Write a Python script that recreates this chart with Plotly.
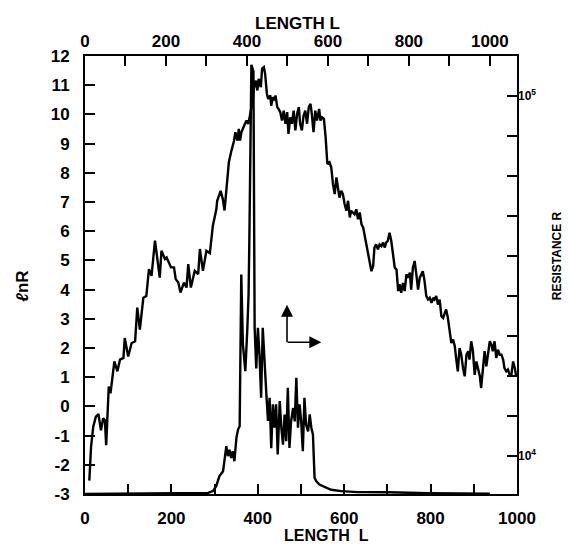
import plotly.graph_objects as go

# ---- ln R versus length L (bottom axis / left axis) ----
L_ln = [10, 14, 19, 25, 31, 37, 42, 46, 49, 55, 59, 68, 75, 81, 89, 92, 100, 108, 116, 121,
        127, 135, 142, 148, 154, 162, 173, 177, 185, 189, 199, 206, 210, 216, 221, 229, 235, 239, 245, 254,
        262, 266, 273, 281, 289, 296, 304, 306, 314, 319, 323, 328, 333, 339, 345, 348, 353, 356, 359, 362,
        366, 370, 374, 378, 381, 385, 388, 391, 395, 399, 402, 407, 410, 414, 417, 421, 424, 429, 431, 435,
        439, 441, 445, 448, 452, 456, 460, 464, 468, 471, 475, 479, 483, 487, 491, 495, 498, 502, 506, 510,
        514, 518, 522, 525, 529, 533, 537, 542, 545, 549, 553, 557, 561, 566, 570, 574, 578, 582, 586, 589,
        593, 597, 601, 605, 609, 613, 616, 624, 628, 632, 636, 640, 644, 647, 653, 659, 663, 667, 670, 674,
        678, 682, 686, 690, 694, 697, 701, 705, 709, 713, 717, 721, 725, 728, 732, 736, 740, 744, 748, 752,
        755, 759, 763, 767, 771, 775, 779, 782, 786, 790, 794, 798, 802, 806, 809, 813, 817, 821, 825, 829,
        833, 836, 840, 844, 848, 852, 856, 860, 863, 867, 871, 875, 879, 883, 887, 890, 894, 898, 902, 906,
        910, 914, 917, 921, 925, 929, 933, 937, 941, 944, 948, 952, 956, 960, 964, 968, 971, 975, 979, 983,
        987, 991, 995, 998]
lnR = [-2.54, -1.39, -0.70, -0.36, -0.26, -0.82, -0.41, -0.47, -1.33, 0.68, 0.45, 1.54, 1.20, 1.60, 1.66, 2.34, 1.71, 2.17, 2.23, 3.38,
       2.63, 3.72, 3.78, 4.70, 4.47, 5.68, 4.41, 5.33, 5.05, 5.10, 4.76, 4.76, 4.36, 4.24, 3.90, 4.24, 4.07, 4.87, 4.07, 4.64,
       4.53, 5.39, 4.64, 5.33, 5.25, 6.19, 6.75, 7.04, 7.38, 7.10, 6.71, 7.61, 8.36, 8.76, 9.10, 9.39, 9.10, 9.50, 9.10, 9.39,
       9.56, 9.67, 9.79, 9.67, 9.90, 10.20, 10.45, 10.90, 11.16, 10.82, 11.22, 10.93, 11.57, 11.62, 11.39, 10.71, 10.53, 10.65, 10.30, 10.59,
       10.48, 10.65, 10.25, 10.19, 10.08, 9.79, 10.13, 9.68, 10.08, 9.33, 9.90, 9.68, 10.13, 9.45, 10.02, 10.25, 9.68, 9.45, 9.96, 10.13,
       9.68, 10.25, 10.36, 10.02, 9.39, 10.13, 9.79, 10.19, 9.79, 9.90, 9.85, 9.22, 8.30, 8.36, 8.19, 7.61, 7.27, 7.84, 7.50, 7.15,
       7.38, 7.27, 6.93, 6.70, 7.04, 6.47, 6.70, 6.58, 6.75, 6.41, 6.64, 6.24, 6.12, 5.89, 5.44, 5.04, 4.63, 4.81, 5.44, 5.55,
       5.38, 5.55, 5.49, 5.61, 5.44, 5.61, 5.67, 5.95, 5.67, 5.21, 4.75, 4.69, 3.95, 4.18, 3.89, 4.23, 3.95, 4.52, 4.41, 4.58,
       4.00, 4.75, 4.98, 4.52, 4.00, 4.41, 4.58, 4.63, 4.29, 3.78, 3.66, 3.72, 3.55, 3.72, 3.66, 3.78, 3.49, 3.66, 3.09, 3.03,
       3.20, 3.32, 3.03, 2.57, 2.17, 2.29, 2.06, 1.54, 1.20, 2.00, 1.77, 1.31, 1.03, 1.77, 1.89, 1.60, 2.23, 1.89, 1.08, 1.54,
       1.31, 1.03, 0.63, 1.31, 1.89, 1.37, 1.77, 2.23, 2.11, 1.89, 2.23, 1.66, 1.94, 1.77, 1.77, 1.60, 1.31, 1.20, 1.26, 1.08,
       1.08, 1.54, 1.31, 1.03]

# ---- Resistance R versus length L (top axis / right log axis) ----
L_R = [0, 100, 200, 260, 290, 304, 316, 324, 332, 341, 349, 353, 357, 361, 365, 369, 374, 378, 382, 386,
       390, 396, 401, 404, 406, 411, 416, 418, 419, 423, 427, 431, 435, 439, 444, 448, 452, 456, 460, 464,
       468, 472, 476, 481, 485, 489, 493, 497, 501, 505, 509, 514, 518, 522, 526, 530, 534, 538, 542, 546,
       551, 555, 559, 563, 567, 571, 579, 588, 596, 608, 633, 674, 750, 800, 850, 1000]
R = [7840, 7850, 7860, 7880, 7900, 7890, 7980, 8240, 8790, 9060, 10640, 9980, 10400, 9860, 10300, 9660, 11220, 11830, 12080, 31900,
     20400, 17200, 22600, 28100, 40300, 122000, 117000, 40300, 22700, 17500, 22700, 19100, 14500, 22700, 17200, 14800, 12500, 14500, 10500, 13900,
     11970, 13900, 10090, 14190, 11970, 10740, 13030, 10990, 15450, 10520, 12470, 13580, 12470, 16480, 11970, 13900, 12470, 10300, 14490, 12220,
     11700, 13030, 11970, 11460, 8690, 8510, 8320, 8240, 8150, 8050, 7980, 7930, 7920, 7900, 7870, 7850]

# ---- axis ticks / labels ----
LN_TICKS = list(range(-3, 13))
LN_TICKTEXT = [str(v) for v in LN_TICKS]
L_TICKS = [0, 200, 400, 600, 800, 1000]
R_TICK_EXP = [4 + k / 9 for k in range(0, 11)]
R_TICKS = [10 ** e for e in R_TICK_EXP]
R_LABEL_VALS = [1e4, 1e5]
R_LABEL_TEXT = ["10<sup>4</sup>", "10<sup>5</sup>"]
R_RANGE_LOG = [3.894, 5.111]

FONT = "Liberation Sans"
tickfont = dict(family=FONT, size=17, color="black", weight="bold")
axis_common = dict(showline=True, linewidth=2, linecolor="black", mirror=False,
                   ticks="inside", ticklen=10, tickwidth=2, tickcolor="black",
                   showgrid=False, zeroline=False)

fig = go.Figure()
fig.add_trace(go.Scatter(x=L_ln, y=lnR, mode="lines", xaxis="x", yaxis="y",
                         line=dict(color="black", width=2.4), showlegend=False, hoverinfo="skip"))
fig.add_trace(go.Scatter(x=L_R, y=R, mode="lines", xaxis="x2", yaxis="y2",
                         line=dict(color="black", width=2.4), showlegend=False, hoverinfo="skip"))
# same curve on the label-only right axis (transparent) so that axis is laid out
fig.add_trace(go.Scatter(x=L_R, y=R, mode="lines", xaxis="x2", yaxis="y3",
                         line=dict(color="rgba(0,0,0,0)", width=0), showlegend=False, hoverinfo="skip"))

fig.update_layout(
    width=570, height=546,
    margin=dict(l=77, r=61, t=48, b=60),
    paper_bgcolor="white", plot_bgcolor="white",
    xaxis=dict(range=[0, 1000], tickvals=L_TICKS, ticktext=[str(v) for v in L_TICKS],
               minor=dict(dtick=100, ticks="inside", ticklen=10, tickwidth=2, tickcolor="black"),
               ticklabelstandoff=8, tickfont=tickfont, **axis_common),
    xaxis2=dict(range=[0, 1067], overlaying="x", side="top", anchor="y",
                tickvals=L_TICKS, ticktext=[str(v) for v in L_TICKS],
                minor=dict(dtick=100, ticks="inside", ticklen=10, tickwidth=2, tickcolor="black"),
                ticklabelstandoff=0, tickfont=tickfont, **axis_common),
    yaxis=dict(range=[-3, 12], tickvals=LN_TICKS, ticktext=LN_TICKTEXT,
               ticklabelstandoff=10, tickfont=tickfont, **axis_common),
    yaxis2=dict(type="log", range=R_RANGE_LOG, overlaying="y", side="right", anchor="x",
                tickvals=R_TICKS, showticklabels=False, **axis_common),
    yaxis3=dict(type="log", range=R_RANGE_LOG, overlaying="y", side="right", anchor="x",
                tickvals=R_LABEL_VALS, ticktext=R_LABEL_TEXT, ticks="", showline=False,
                showgrid=False, zeroline=False, ticklabelstandoff=0,
                tickfont=dict(family=FONT, size=12, color="black", weight="bold")),
    annotations=[
        dict(text="LENGTH L", xref="paper", yref="paper", x=0.493, y=1.074,
             xanchor="center", yanchor="middle", showarrow=False,
             font=dict(family=FONT, size=17, color="black", weight="bold")),
        dict(text="LENGTH\u00a0\u00a0L", xref="paper", yref="paper", x=0.56, y=-0.095,
             xanchor="center", yanchor="middle", showarrow=False,
             font=dict(family=FONT, size=16, color="black", weight="bold")),
        dict(text="<i>ℓ</i>nR", xref="paper", yref="paper", x=-0.1435, y=0.473,
             xanchor="center", yanchor="middle", showarrow=False, textangle=-90,
             font=dict(family=FONT, size=17, color="black", weight="bold")),
        dict(text="RESISTANCE R", xref="paper", yref="paper", x=1.0926, y=0.543,
             xanchor="center", yanchor="middle", showarrow=False, textangle=-90,
             font=dict(family=FONT, size=12, color="black", weight="bold")),
        # direction arrows (right / top axes belong to the spiky curve)
        dict(text="", xref="paper", yref="paper", x=0.4676, y=0.432, ax=0, ay=39,
             showarrow=True, arrowhead=2, arrowsize=1.5, arrowwidth=1.6, arrowcolor="black"),
        dict(text="", xref="paper", yref="paper", x=0.547, y=0.3463, ax=-35, ay=0,
             showarrow=True, arrowhead=2, arrowsize=1.5, arrowwidth=1.6, arrowcolor="black"),
    ],
)

fig.write_html("out.html")
